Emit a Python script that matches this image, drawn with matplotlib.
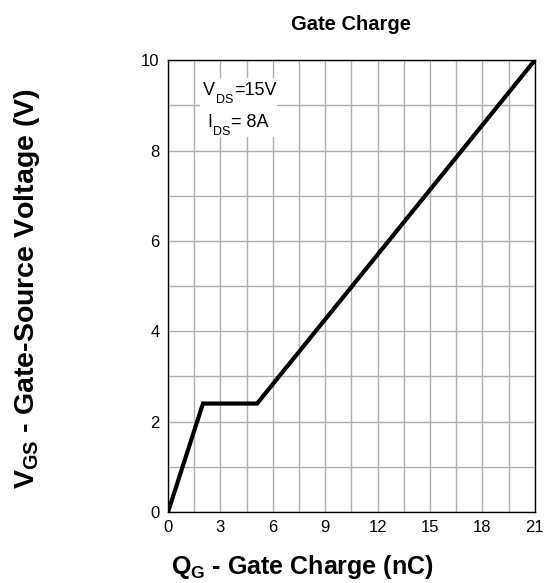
import numpy as np
import matplotlib.pyplot as plt
from matplotlib.patches import Rectangle

plt.rcParams['font.family'] = ['Liberation Sans', 'DejaVu Sans']
plt.rcParams['mathtext.fontset'] = 'custom'
plt.rcParams['mathtext.rm'] = 'Liberation Sans'
plt.rcParams['mathtext.bf'] = 'Liberation Sans:bold'

# Gate charge curve breakpoints
qg_nc = [0, 2.0, 5.1, 21]
vgs_v = [0, 2.4, 2.4, 10]

x_ticks = [0, 3, 6, 9, 12, 15, 18, 21]
y_ticks = [0, 2, 4, 6, 8, 10]

# test conditions shown in the inset box
cond_lines = [('V', 'DS', '=15V'), ('I', 'DS', '= 8A')]

fig = plt.figure(figsize=(5.5, 5.83), dpi=100)
ax = fig.add_axes([0.3055, 0.1218, 0.667, 0.775])

ax.plot(qg_nc, vgs_v, color='black', linewidth=3, solid_joinstyle='miter', zorder=3)

ax.set_xlim(0, 21)
ax.set_ylim(0, 10)
ax.set_xticks(x_ticks)
ax.set_yticks(y_ticks)
ax.set_xticks(np.arange(0, 21.1, 1.5), minor=True)
ax.set_yticks(np.arange(0, 10.1, 1), minor=True)
ax.grid(which='both', color='#b0b0b0', linewidth=1)
ax.tick_params(which='both', length=0, labelsize=12, pad=6)
for s in ax.spines.values():
    s.set_linewidth(1)
    s.set_zorder(4)

# white patch behind the conditions so the grid doesn't run through it
ax.add_patch(Rectangle((0.087, 0.83), 0.21, 0.13, transform=ax.transAxes,
                       facecolor='white', edgecolor='none', zorder=2))

renderer = fig.canvas.get_renderer()
to_pt = 72.0 / fig.dpi


def text_run(x, y, main, sub, rest):
    # main letter, small dropped subscript, then the rest on the main baseline
    t1 = ax.annotate(main, (x, y), xycoords='axes fraction', fontsize=13,
                     va='baseline', ha='left', zorder=5)
    w1 = t1.get_window_extent(renderer).width * to_pt
    t2 = ax.annotate(sub, (x, y), xycoords='axes fraction', xytext=(w1 + 0.5, -6),
                     textcoords='offset points', fontsize=9, va='baseline', ha='left', zorder=5)
    w2 = t2.get_window_extent(renderer).width * to_pt
    ax.annotate(rest, (x, y), xycoords='axes fraction', xytext=(w1 + w2 + 1, 0),
                textcoords='offset points', fontsize=13, va='baseline', ha='left', zorder=5)


text_run(0.095, 0.9226, *cond_lines[0])
text_run(0.106, 0.852, *cond_lines[1])

ax.set_title('Gate Charge', fontsize=14.5, fontweight='bold', pad=22)
ax.set_xlabel('$\\mathbf{Q_G}$ - Gate Charge (nC)', fontsize=18, fontweight='bold')
ax.set_ylabel('$\\mathbf{V_{GS}}$ - Gate-Source Voltage (V)', fontsize=20.5, fontweight='bold')
ax.xaxis.set_label_coords(0.365, -0.091)
ax.yaxis.set_label_coords(-0.343, 0.494)

fig.savefig('out.png', dpi=100)
